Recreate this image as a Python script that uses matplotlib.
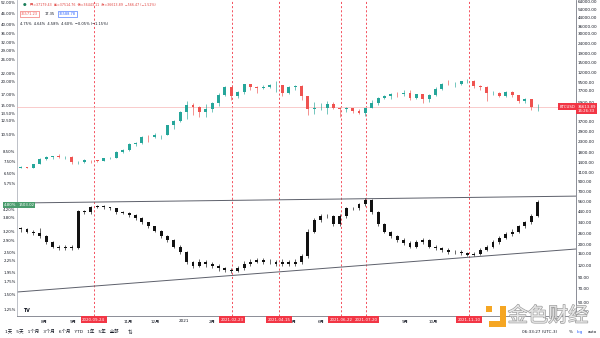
import numpy as np
import pandas as pd
import matplotlib
matplotlib.use("Agg")
import matplotlib.pyplot as plt
import matplotlib.dates as mdates
import matplotlib.transforms as mtrans
import matplotlib.patheffects as pe
from matplotlib.patches import Rectangle
from matplotlib.ticker import NullLocator

plt.rcParams['font.family'] = ['DejaVu Sans', 'Noto Sans CJK SC']

# weekly bars, Jul 2020 - Jan 2022
weeks = pd.date_range("2020-07-06", periods=82, freq="7D")

btc_open0 = 9070
btc_close = [9250, 9160, 9930, 11050, 11700, 11850, 11650, 11700, 10280, 10330,
             10920, 10770, 10670, 11380, 11500, 13030, 13800, 15480, 15960, 18410,
             18200, 19150, 19270, 23850, 26450, 32500, 38150, 36000, 32300, 34300,
             39300, 47200, 57500, 46300, 51000, 61200, 57400, 55800, 57100, 59800,
             60000, 50000, 56600, 58200, 46400, 34700, 35700, 35800, 39100, 35500,
             34700, 35300, 33500, 31800, 35400, 39900, 45000, 47000, 49000, 48800,
             49900, 45000, 48300, 43200, 48200, 54900, 61500, 61300, 61300, 64900,
             65500, 58600, 57200, 49400, 50100, 46700, 50800, 47200, 41800, 43100,
             36300, 36613.89]
btc_high = [9450, 9300, 10000, 11400, 11900, 12000, 12450, 11800, 12050, 10600,
            11150, 10950, 10950, 11500, 11700, 13350, 14000, 15950, 16500, 18800,
            19400, 19900, 19400, 24300, 26800, 33300, 41950, 40100, 37500, 38500,
            40900, 49700, 58300, 57300, 52600, 61800, 60600, 58400, 60000, 61200,
            64900, 57500, 58400, 59600, 59500, 46600, 40800, 39500, 41300, 41000,
            36000, 36600, 35100, 34600, 35500, 42300, 45300, 48100, 49400, 50500,
            52900, 52800, 48800, 45000, 49200, 56600, 62700, 67000, 63700, 66200,
            69000, 66300, 59200, 59000, 51900, 50500, 52000, 52100, 47600, 44400,
            43500, 38900]
btc_low = [9050, 9050, 9150, 9900, 11000, 11200, 11400, 11150, 9900, 9900,
           10250, 10150, 10400, 10550, 11200, 11400, 12900, 13200, 15100, 15800,
           16300, 18000, 17600, 19100, 21800, 26000, 27700, 30400, 28800, 29200,
           32300, 37400, 46300, 43000, 45000, 49000, 53300, 50400, 54900, 55500,
           51500, 47000, 48800, 53100, 42900, 30000, 31200, 34100, 31100, 34900,
           28800, 32700, 32000, 31000, 29300, 35200, 37600, 43800, 43900, 45900,
           46700, 42800, 43500, 39600, 40800, 47100, 53900, 59700, 57800, 59500,
           62300, 55600, 53500, 42000, 47300, 45500, 45600, 45700, 39700, 39800,
           34000, 32900]

rate_open0 = 3.36
rate_close = [3.32, 3.21, 3.16, 3.05, 2.83, 2.68, 2.63, 2.68, 2.63, 4.12,
              4.06, 4.32, 4.38, 4.32, 4.27, 4.06, 4.03, 3.93, 3.78, 3.59,
              3.42, 3.24, 3.05, 2.90, 2.68, 2.50, 2.22, 2.12, 2.22, 2.17,
              2.12, 2.06, 2.01, 1.99, 2.06, 2.17, 2.22, 2.27, 2.22, 2.22,
              2.17, 2.22, 2.17, 2.22, 2.38, 3.21, 3.70, 3.88, 3.88, 3.52,
              3.88, 4.27, 4.27, 4.49, 4.72, 4.06, 3.52, 3.21, 3.05, 2.90,
              2.80, 2.68, 2.83, 2.90, 2.68, 2.63, 2.57, 2.50, 2.50, 2.48,
              2.42, 2.45, 2.57, 2.68, 2.83, 2.97, 3.12, 3.21, 3.42, 3.59,
              3.88, 4.60]
rate_high = [3.40, 3.34, 3.26, 3.36, 3.08, 2.86, 2.74, 2.74, 2.74, 4.20,
             4.18, 4.38, 4.46, 4.42, 4.36, 4.30, 4.12, 4.06, 3.96, 3.82,
             3.62, 3.46, 3.28, 3.08, 2.94, 2.72, 2.54, 2.26, 2.30, 2.28,
             2.22, 2.16, 2.10, 2.06, 2.12, 2.24, 2.30, 2.34, 2.32, 2.30,
             2.28, 2.30, 2.28, 2.30, 2.46, 3.30, 3.80, 3.98, 3.98, 3.94,
             3.96, 4.34, 4.36, 4.56, 4.82, 4.76, 4.12, 3.58, 3.24, 3.10,
             2.96, 2.86, 2.90, 2.98, 2.94, 2.74, 2.68, 2.62, 2.58, 2.56,
             2.52, 2.52, 2.62, 2.74, 2.90, 3.04, 3.20, 3.30, 3.50, 3.66,
             3.96, 4.75]
rate_low = [3.18, 3.14, 3.08, 2.98, 2.78, 2.62, 2.56, 2.58, 2.56, 2.60,
            3.96, 4.00, 4.26, 4.22, 4.18, 4.00, 3.96, 3.86, 3.70, 3.52,
            3.36, 3.18, 2.98, 2.84, 2.62, 2.44, 2.16, 2.06, 2.08, 2.10,
            2.06, 2.00, 1.96, 1.94, 1.96, 2.02, 2.12, 2.18, 2.16, 2.16,
            2.12, 2.12, 2.12, 2.12, 2.16, 2.34, 3.14, 3.62, 3.78, 3.44,
            3.46, 3.80, 4.16, 4.20, 4.40, 3.98, 3.44, 3.14, 2.98, 2.84,
            2.74, 2.62, 2.64, 2.78, 2.62, 2.56, 2.50, 2.44, 2.44, 2.42,
            2.38, 2.38, 2.42, 2.54, 2.64, 2.78, 2.92, 3.06, 3.16, 3.36,
            3.54, 3.82]

event_dates = ["2020-09-24", "2021-02-23", "2021-04-15", "2021-06-22", "2021-07-20", "2021-11-10"]

month_ticks = ["2020-08-01", "2020-09-01", "2020-11-01", "2020-12-01", "2021-01-01",
               "2021-02-01", "2021-05-01", "2021-06-01", "2021-09-01", "2021-10-01"]
month_labels = ["8月", "9月", "11月", "12月", "2021", "2月", "5月", "6月", "9月", "10月"]

left_ticks = [52, 46, 40, 36, 32, 29, 26, 22, 20, 17, 15, 13.5, 12.5, 10.5, 8.5, 7.5,
              6.5, 5.75, 4.2, 3.8, 3.2, 2.9, 2.5, 2.25, 1.95, 1.75, 1.5, 1.25]
right_ticks = [64000, 54000, 44000, 36000, 30000, 24000, 19000, 15000, 12000, 9500,
               7700, 5900, 4700, 3700, 2900, 2300, 1800, 1400, 1100, 900, 700, 560,
               440, 340, 260, 200, 160, 120, 90, 70, 50, 40]

x_range = ["2020-07-02", "2022-03-07"]
trend_upper = [4.55, 4.95]
trend_lower = [1.54, 2.60]
last_price = 36613.89


def candles(ax, dates, open0, close, high, low, up, down, width=3.2):
    close = np.array(close, dtype=float)
    opens = np.concatenate([[open0], close[:-1]])
    x = mdates.date2num(dates)
    colors = [up if c >= o else down for o, c in zip(opens, close)]
    ax.vlines(x, low, high, colors=colors, lw=0.45, zorder=3)
    ax.bar(x, np.abs(close - opens), width, bottom=np.minimum(opens, close),
           color=colors, linewidth=0, zorder=3)


fig = plt.figure(figsize=(6, 3.38), dpi=100)
ax = fig.add_axes([17 / 600, 22 / 338, 559 / 600, 316 / 338])

# percent (left) axis: the lower series
ax.set_yscale('log')
ax.set_ylim(1.150, 53.9)
ax.set_xlim(pd.to_datetime(x_range))
ax.set_yticks(left_ticks)
ax.set_yticklabels([f"{v:.2f}%" for v in left_ticks])
ax.yaxis.set_minor_locator(NullLocator())
ax.tick_params(axis='y', length=0, pad=1, labelsize=2.8, colors='#131722')
ax.set_xticks(mdates.date2num(pd.to_datetime(month_ticks)))
ax.set_xticklabels(month_labels)
ax.tick_params(axis='x', length=0, pad=2.5, labelsize=3.0, colors='#131722')
ax.spines['top'].set_visible(False)
ax.spines['right'].set_visible(False)
ax.spines['left'].set_color('#b2b5be')
ax.spines['left'].set_linewidth(0.6)
ax.spines['bottom'].set_color('#787b86')
ax.spines['bottom'].set_linewidth(0.6)

candles(ax, weeks, rate_open0, rate_close, rate_high, rate_low, '#111111', '#111111')
ax.plot(pd.to_datetime(x_range), trend_upper, color='#5d606b', lw=0.7, zorder=2)
ax.plot(pd.to_datetime(x_range), trend_lower, color='#5d606b', lw=0.7, zorder=2)

for d in event_dates:
    ax.axvline(pd.Timestamp(d), color='#f23645', lw=0.6, ls=(0, (2.5, 2.5)), zorder=1)
    ax.text(pd.Timestamp(d), -0.006, d, transform=ax.get_xaxis_transform(),
            ha='center', va='top', fontsize=2.9, color='white', zorder=6,
            bbox=dict(boxstyle='square,pad=0.35', fc='#f23645', ec='none'))

ytr = mtrans.blended_transform_factory(ax.transAxes, ax.transData)
ax.text(-0.001, 4.44, "4.80%", transform=ytr, ha='right', va='center', fontsize=2.8,
        color='white', bbox=dict(boxstyle='square,pad=0.3', fc='#4a9c6d', ec='none'))
ax.text(0.002, 4.44, "1503.02", transform=ytr, ha='left', va='center', fontsize=2.8,
        color='white', bbox=dict(boxstyle='square,pad=0.3', fc='#4a9c6d', ec='none'))

# price axis for the upper series (no ticks)
ax_btc = ax.twinx()
ax_btc.set_yscale('log')
ax_btc.set_ylim(314, 412800)
ax_btc.set_yticks([])
ax_btc.yaxis.set_minor_locator(NullLocator())
for s in ax_btc.spines.values():
    s.set_visible(False)
candles(ax_btc, weeks, btc_open0, btc_close, btc_high, btc_low, '#26a69a', '#ef5350')
ax_btc.axhline(last_price, color='#f7b6b6', lw=0.5, zorder=1)

# right price scale labels
ax_r = ax.twinx()
ax_r.set_yscale('log')
ax_r.set_ylim(36.3, 67100)
ax_r.set_yticks(right_ticks)
ax_r.set_yticklabels([f"{v:.2f}" for v in right_ticks])
ax_r.yaxis.set_minor_locator(NullLocator())
ax_r.tick_params(axis='y', length=0, pad=1.5, labelsize=3.0, colors='#131722')
for k in ['top', 'left', 'bottom']:
    ax_r.spines[k].set_visible(False)
ax_r.spines['right'].set_color('#787b86')
ax_r.spines['right'].set_linewidth(0.6)

# last-price tags drawn on the top axes so they cover the scale labels
btr = mtrans.blended_transform_factory(ax_btc.transAxes, ax_btc.transData)
ax_r.text(0.999, last_price, "BTCUSD", transform=btr, ha='right', va='center',
          fontsize=2.8, color='white', zorder=7,
          bbox=dict(boxstyle='square,pad=0.3', fc='#f23645', ec='none'))
ax_r.annotate("36613.89\n16:26:33", xy=(1.0, last_price), xycoords=btr,
              xytext=(1.0, 1.5), textcoords='offset points', ha='left', va='top',
              fontsize=2.8, color='white', annotation_clip=False, linespacing=1.1,
              zorder=7, bbox=dict(boxstyle='square,pad=0.4', fc='#f23645', ec='none'))


def px(x, y):
    return x / 600, 1 - y / 338


# legend rows top-left
fig.text(*px(25, 5), "●", fontsize=3, color='#1b7e5a', ha='center', va='center')
fig.text(*px(30, 5), "开=37179.43  高=37514.76  低=36443.11  收=36613.89  −566.47 (−1.52%)",
         fontsize=2.3, color='#e0403c', va='center')
fig.text(*px(21, 14), "36571.23", fontsize=2.6, color='#ef5350', va='center',
         bbox=dict(boxstyle='square,pad=0.3', fc='white', ec='#ef5350', lw=0.4))
fig.text(*px(45, 14), "17.35", fontsize=2.6, color='#131722', va='center')
fig.text(*px(59, 14), "36588.78", fontsize=2.6, color='#2962ff', va='center',
         bbox=dict(boxstyle='square,pad=0.3', fc='white', ec='#2962ff', lw=0.4))
fig.text(*px(20, 24), "4.75%  4.64%  4.58%  4.60%  −0.05% (−1.15%)",
         fontsize=2.6, color='#131722', va='center')

fig.text(*px(26, 310), "TV", fontsize=3.4, fontweight='bold', color='#131722',
         ha='center', va='center')

# bottom toolbar
fig.text(*px(5, 332), "1天   5天   1个月   3个月   6个月   YTD   1年   5年   全部",
         fontsize=3.2, color='#131722', va='center')
fig.text(*px(130, 332), "⇅", fontsize=4, color='#131722', ha='center', va='center')
fig.text(*px(540, 332), "06:33:27 (UTC-3)", fontsize=3.0, color='#131722',
         ha='center', va='center')
fig.text(*px(571, 332), "%", fontsize=3.0, color='#131722', ha='center', va='center')
fig.text(*px(580, 332), "log", fontsize=3.0, color='#2962ff', ha='center', va='center')
fig.text(*px(592, 332), "auto", fontsize=3.0, color='#131722', ha='center', va='center')

# watermark
orange = '#f5a623'
for (x0, y0, w, h) in [(486, 306, 6, 6), (500, 306, 6, 21), (489, 321, 17, 6)]:
    fig.patches.append(Rectangle((x0 / 600, 1 - (y0 + h) / 338), w / 600, h / 338,
                                 transform=fig.transFigure, fc=orange, ec='none', zorder=8))
fig.text(*px(548, 316), "金色财经", fontsize=14.5, color='#e6e6e6', ha='center', va='center',
         zorder=9, path_effects=[pe.withStroke(linewidth=0.9, foreground='#9a9a9a')])

fig.savefig("out.png", dpi=100)
